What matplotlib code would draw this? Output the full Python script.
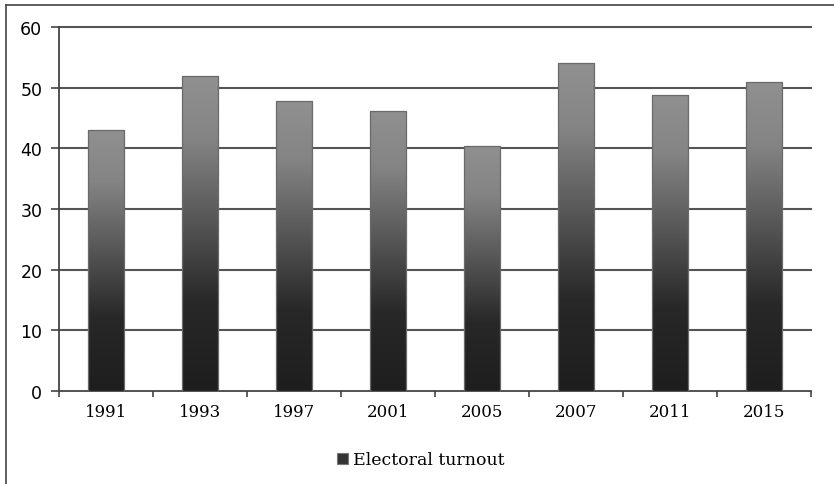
import matplotlib
matplotlib.use("Agg")
import matplotlib.pyplot as plt
import numpy as np
from matplotlib.colors import LinearSegmentedColormap
from matplotlib.patches import Rectangle, Patch

years = ["1991", "1993", "1997", "2001", "2005", "2007", "2011", "2015"]
turnout = [43.1, 52.0, 47.8, 46.1, 40.4, 54.0, 48.8, 50.9]
yticks = [0, 10, 20, 30, 40, 50, 60]
series_name = "Electoral turnout"

fig = plt.figure(figsize=(8.34, 4.85), dpi=100)
fig.patch.set_facecolor("white")

# outer chart border (left and top visible)
fig.add_artist(plt.Line2D([6/834, 6/834], [0, 1 - 6/485], transform=fig.transFigure,
                          color="#444444", lw=1.2))
fig.add_artist(plt.Line2D([6/834, 1.0], [1 - 6/485, 1 - 6/485], transform=fig.transFigure,
                          color="#444444", lw=1.2))

ax = fig.add_axes([59/834, 1 - 392/485, (811 - 59)/834, (392 - 28)/485])
ax.set_xlim(0, len(years))
ax.set_ylim(0, 60)

cmap = LinearSegmentedColormap.from_list(
    "g", [(0.0, "#1e1e1e"), (0.28, "#282828"), (0.55, "#585858"),
          (0.8, "#848484"), (1.0, "#909090")])
grad = np.linspace(0, 1, 256).reshape(-1, 1)

width = 0.39
for i, v in enumerate(turnout):
    x0 = i + 0.5 - width / 2
    im = ax.imshow(grad, cmap=cmap, origin="lower", aspect="auto",
                   extent=[x0, x0 + width, 0, v], zorder=3, interpolation="bilinear")
    rect = Rectangle((x0, 0), width, v, facecolor="none", edgecolor="#6a6a6a",
                     lw=0.9, zorder=4)
    ax.add_patch(rect)
    im.set_clip_path(rect)

ax.set_xlim(0, len(years))
ax.set_ylim(0, 60)

for y in yticks[1:]:
    ax.axhline(y, color="#555555", lw=1.5, zorder=1, clip_on=False)

ax.spines["top"].set_visible(False)
ax.spines["right"].set_visible(False)
ax.spines["left"].set_color("#444444")
ax.spines["bottom"].set_color("#444444")
ax.spines["left"].set_linewidth(1.3)
ax.spines["bottom"].set_linewidth(1.3)

ax.set_yticks(yticks)
ax.set_yticklabels([str(t) for t in yticks], fontsize=12.5, family="DejaVu Sans", color="#000000")
ax.tick_params(axis="y", length=6, width=1.2, color="#444444", pad=6)

ax.set_xticks(np.arange(0, len(years) + 1))
ax.set_xticklabels([""] * (len(years) + 1))
ax.tick_params(axis="x", length=4, width=1.2, color="#444444")
ax.set_xticks(np.arange(len(years)) + 0.5, minor=True)
ax.set_xticklabels(years, minor=True, fontsize=12, family="DejaVu Serif", color="#000000")
ax.tick_params(axis="x", which="minor", length=0, pad=9)

handle = Patch(facecolor="#333333", edgecolor="#777777", lw=0.8)
fig.legend([handle], [series_name], loc="center", bbox_to_anchor=(421/834, 1 - 461/485),
           frameon=False, prop={"family": "DejaVu Serif", "size": 12.5},
           handlelength=0.6, handleheight=0.6, handletextpad=0.3)

fig.savefig("out.png", dpi=100, facecolor="white")
